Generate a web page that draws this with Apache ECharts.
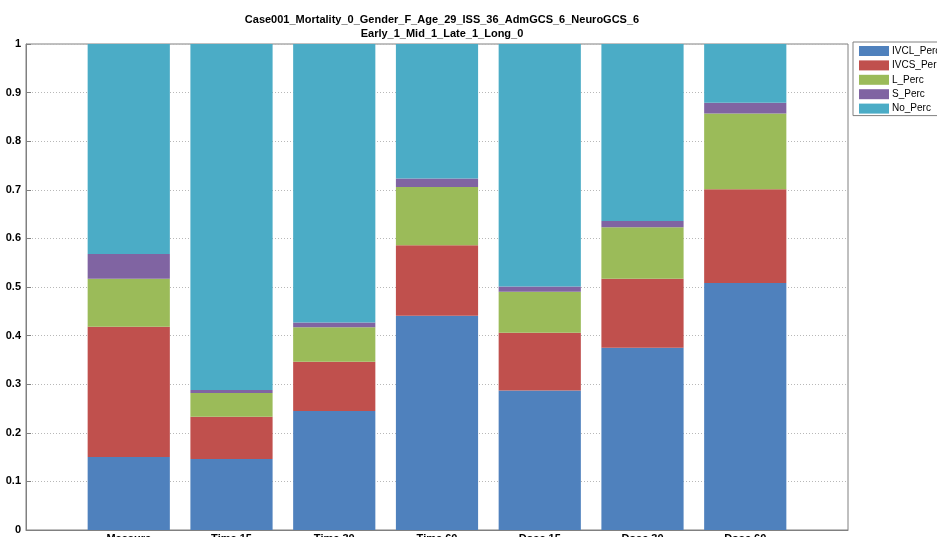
<!DOCTYPE html>
<html>
<head>
<meta charset="utf-8">
<script src="https://cdn.jsdelivr.net/npm/echarts@6/dist/echarts.min.js"></script>
<style>
html,body{margin:0;padding:0;background:#fff;}
#chart{width:937px;height:537px;}
</style>
</head>
<body>
<div id="chart"></div>
<script>
const categories = ['Measure', 'Time 15', 'Time 30', 'Time 60', 'Dose 15', 'Dose 30', 'Dose 60'];
const IVCL_Perc = [0.150, 0.146, 0.245, 0.441, 0.287, 0.375, 0.508];
const IVCS_Perc = [0.268, 0.087, 0.101, 0.145, 0.119, 0.142, 0.193];
const L_Perc    = [0.099, 0.049, 0.071, 0.120, 0.084, 0.106, 0.156];
const S_Perc    = [0.051, 0.006, 0.010, 0.017, 0.011, 0.013, 0.022];
const No_Perc   = [0.432, 0.712, 0.573, 0.277, 0.499, 0.364, 0.121];
const yTicks = [0, 0.1, 0.2, 0.3, 0.4, 0.5, 0.6, 0.7, 0.8, 0.9, 1];
const titleLines = ['Case001_Mortality_0_Gender_F_Age_29_ISS_36_AdmGCS_6_NeuroGCS_6', 'Early_1_Mid_1_Late_1_Long_0'];

const seriesDefs = [
  {name: 'IVCL_Perc', data: IVCL_Perc, color: '#4F81BD'},
  {name: 'IVCS_Perc', data: IVCS_Perc, color: '#C0504D'},
  {name: 'L_Perc', data: L_Perc, color: '#9BBB59'},
  {name: 'S_Perc', data: S_Perc, color: '#8064A2'},
  {name: 'No_Perc', data: No_Perc, color: '#4BACC6'}
];

// pad with empty slots at both ends so bars sit at positions 1..7 of a 0..8 axis
const xCats = [''].concat(categories, ['']);
const pad = arr => [null].concat(arr, [null]);

const chart = echarts.init(document.getElementById('chart'), null, {renderer: 'canvas'});
const font = '"Liberation Sans", Arial, Helvetica, sans-serif';
chart.setOption({
  animation: false,
  backgroundColor: '#ffffff',
  title: {
    text: titleLines.join('\n'),
    left: 437, textAlign: 'center', top: 8,
    textStyle: {fontFamily: font, fontSize: 11, fontWeight: 'bold', color: '#000', lineHeight: 14}
  },
  legend: {
    orient: 'vertical',
    left: 853, top: 42,
    padding: [4, 6, 2, 6],
    itemWidth: 30, itemHeight: 10, itemGap: 4.4,
    borderColor: '#808080', borderWidth: 1,
    backgroundColor: '#fff',
    icon: 'rect',
    textStyle: {fontFamily: font, fontSize: 10, color: '#000', padding: [0, 0, 0, -2]},
    data: seriesDefs.map(s => s.name)
  },
  grid: {
    left: 26, right: 89, top: 44, bottom: 7,
    outerBoundsMode: 'none',
    containLabel: false,
    show: true, borderColor: '#808080', borderWidth: 1, backgroundColor: 'transparent'
  },
  xAxis: {
    type: 'category',
    data: xCats,
    boundaryGap: false,
    axisLine: {lineStyle: {color: '#808080'}},
    axisTick: {show: false},
    axisLabel: {fontFamily: font, fontSize: 11, fontWeight: 'bold', color: '#000', margin: 3, interval: 0},
    splitLine: {show: false},
    z: 10
  },
  yAxis: {
    type: 'value',
    min: yTicks[0], max: yTicks[yTicks.length - 1], interval: 0.1,
    axisLine: {show: true, lineStyle: {color: '#808080'}},
    axisTick: {show: true, inside: true, length: 5, lineStyle: {color: '#808080'}},
    axisLabel: {fontFamily: font, fontSize: 11, fontWeight: 'bold', color: '#000', margin: 5,
      formatter: v => String(Math.round(v * 10) / 10)},
    splitLine: {show: true, lineStyle: {color: '#b8b8b8', type: [1, 2], width: 1}}
  },
  series: seriesDefs.map(s => ({
    name: s.name,
    type: 'bar',
    stack: 'total',
    barWidth: '80%',
    data: pad(s.data),
    itemStyle: {color: s.color}
  }))
});
</script>
</body>
</html>
